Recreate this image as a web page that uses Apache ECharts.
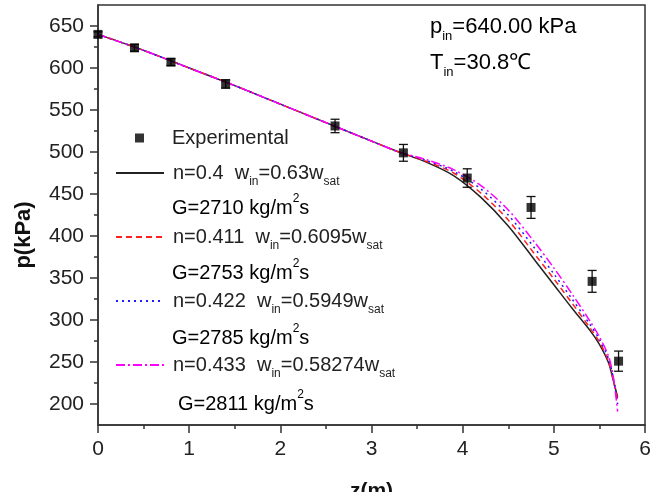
<!DOCTYPE html>
<html>
<head>
<meta charset="utf-8">
<script src="https://cdn.jsdelivr.net/npm/echarts@6.0.0/dist/echarts.min.js"></script>
<style>
html, body { margin: 0; padding: 0; background: #fff; }
#chart { width: 658px; height: 492px; }
</style>
</head>
<body>
<div id="chart"></div>
<script>
// experimental points (z in m, p in kPa, error bar half-height)
const zExp = [0, 0.4, 0.8, 1.4, 2.6, 3.35, 4.05, 4.75, 5.42, 5.71]
const pExp = [640, 624, 607, 581, 531, 499, 469, 434, 346, 251]
const errExp = [3, 4, 4, 5, 8, 10, 11, 13, 13, 12]

// model curves, all on the same z grid
const zModel = [0, 0.5, 1, 1.5, 2, 2.5, 3, 3.3, 3.6, 3.9, 4.2, 4.5, 4.8, 5.0, 5.2, 5.4, 5.5, 5.6, 5.65, 5.7]
const pN0400 = [640, 621, 600, 579, 557, 535, 513, 500, 488, 472, 446, 412, 370, 342, 314, 287, 271, 249, 229, 208]
const pN0411 = [640, 621, 600, 579, 557, 535, 513, 500, 489, 475, 451, 419, 377, 349, 320, 290, 274, 251, 230, 205]
const pN0422 = [640, 621, 600, 579, 557, 535, 513, 500, 490, 477, 456, 425, 384, 355, 325, 294, 277, 254, 232, 200]
const pN0433 = [640, 621, 600, 579, 557, 535, 513, 500, 491, 479, 460, 431, 391, 362, 331, 298, 280, 257, 234, 191]

// axis ticks
const xTicks = [0, 1, 2, 3, 4, 5, 6]
const yMajor = [200, 250, 300, 350, 400, 450, 500, 550, 600, 650]
const yMinor = [225, 275, 325, 375, 425, 475, 525, 575, 625]

// legend / label texts
const lineNames = ['n=0.4', 'n=0.411', 'n=0.422', 'n=0.433']
const wLabels = ['0.63', '0.6095', '0.5949', '0.58274']
const gLabels = ['2710', '2753', '2785', '2811']

const FONT = 'Liberation Sans, Arial, Helvetica, sans-serif'
const TXT = '#222'

const pair = (zs, ps) => zs.map((z, i) => [z, ps[i]])

const subRich = {
  a: { fontFamily: FONT, fontSize: 20, lineHeight: 30, color: TXT },
  s: { fontFamily: FONT, fontSize: 12, lineHeight: 12, color: TXT, verticalAlign: 'bottom' },
  p: { fontFamily: FONT, fontSize: 12, lineHeight: 12, color: TXT, verticalAlign: 'top' }
}
// slightly larger for the inlet conditions
const annRich = {
  a: { fontFamily: FONT, fontSize: 22, lineHeight: 32, color: TXT },
  s: { fontFamily: FONT, fontSize: 13, lineHeight: 13, color: TXT, verticalAlign: 'bottom' }
}

const myChart = echarts.init(document.getElementById('chart'))

const lineSeries = (name, data, color, type) => ({
  name: name,
  type: 'line',
  data: data,
  showSymbol: false,
  symbol: 'none',
  smooth: 0.3,
  lineStyle: { color: color, width: 1.5, type: type },
  itemStyle: { color: color },
  z: 3
})

// G= lines under each legend entry
const gY = [208, 273, 338, 404]
const gX = [172, 172, 172, 178]
const gTexts = gLabels.map((g, i) => ({
  type: 'text',
  x: gX[i],
  y: gY[i],
  style: {
    text: '{a|G=' + g + ' kg/m}{p|2}{a|s}',
    rich: subRich,
    verticalAlign: 'middle'
  }
}))

let option = {
  animation: false,
  backgroundColor: '#fff',
  grid: {
    left: 98, right: 13, top: 5, bottom: 67,
    outerBoundsMode: 'none',
    show: true, borderColor: '#333', borderWidth: 1.5
  },
  legend: [
    {
      data: ['Experimental'],
      orient: 'vertical',
      left: 135, top: 128,
      padding: 0,
      itemWidth: 9, itemHeight: 9,
      textStyle: { fontFamily: FONT, fontSize: 20, color: TXT, padding: [0, 0, 0, 23] }
    },
    {
      data: lineNames,
      orient: 'vertical',
      left: 115, top: 163,
      padding: 0,
      icon: 'inherit',
      itemWidth: 48, itemHeight: 14,
      itemGap: 39,
      itemStyle: { opacity: 0 },
      formatter: function (name) {
        const i = lineNames.indexOf(name)
        return '{a|' + name + '  w}{s|in}{a|=' + wLabels[i] + 'w}{s|sat}'
      },
      textStyle: { rich: subRich, padding: [0, 0, 0, 4] }
    }
  ],
  xAxis: {
    type: 'value',
    min: 0, max: 6, interval: 1,
    name: 'z(m)',
    nameLocation: 'middle',
    nameGap: 56,
    nameTextStyle: { fontFamily: FONT, fontSize: 21, fontWeight: 'bold', color: '#111' },
    axisLine: { onZero: false, lineStyle: { color: '#333', width: 1.5 } },
    axisTick: { length: 8, lineStyle: { color: '#333', width: 1.5 } },
    minorTick: { show: true, splitNumber: 2, length: 4, lineStyle: { color: '#333', width: 1.5 } },
    axisLabel: {
      margin: 14, fontFamily: FONT, fontSize: 21, color: TXT,
      customValues: xTicks
    },
    splitLine: { show: false }
  },
  yAxis: [
    {
      type: 'value',
      min: 175, max: 675,
      name: 'p(kPa)',
      nameLocation: 'middle',
      nameGap: 63,
      nameTextStyle: { fontFamily: FONT, fontSize: 22, fontWeight: 'bold', color: '#111', padding: [0, 40, 0, 0] },
      axisLine: { show: true, onZero: false, lineStyle: { color: '#333', width: 1.5 } },
      axisTick: { show: true, length: 8, customValues: yMajor, lineStyle: { color: '#333', width: 1.5 } },
      axisLabel: { margin: 14, fontFamily: FONT, fontSize: 21, color: TXT, customValues: yMajor },
      splitLine: { show: false }
    },
    {
      // minor ticks only
      type: 'value',
      min: 175, max: 675,
      position: 'left',
      axisLine: { show: false },
      axisTick: { show: true, length: 4, customValues: yMinor, lineStyle: { color: '#333', width: 1.5 } },
      axisLabel: { show: false, customValues: yMinor },
      splitLine: { show: false }
    }
  ],
  graphic: [
    {
      type: 'text', x: 430, y: 27,
      style: { text: '{a|p}{s|in}{a|=640.00 kPa}', rich: annRich, verticalAlign: 'middle' }
    },
    {
      type: 'text', x: 430, y: 63,
      style: { text: '{a|T}{s|in}{a|=30.8℃}', rich: annRich, verticalAlign: 'middle' }
    }
  ].concat(gTexts),
  series: [
    lineSeries('n=0.4', pair(zModel, pN0400), '#222', 'solid'),
    lineSeries('n=0.411', pair(zModel, pN0411), '#ff2020', [6, 4]),
    lineSeries('n=0.422', pair(zModel, pN0422), '#1a1aff', [2, 4]),
    lineSeries('n=0.433', pair(zModel, pN0433), '#ff00ff', [9, 3, 2, 3]),
    {
      name: 'errbar',
      type: 'custom',
      data: zExp.map((z, i) => [z, pExp[i], errExp[i]]),
      encode: { x: 0, y: 1 },
      renderItem: function (params, api) {
        const x = api.value(0), y = api.value(1), e = api.value(2)
        const hi = api.coord([x, y + e])
        const lo = api.coord([x, y - e])
        const w = 4.5
        const st = { stroke: '#111', lineWidth: 1.3 }
        return {
          type: 'group',
          children: [
            { type: 'line', shape: { x1: hi[0], y1: hi[1], x2: lo[0], y2: lo[1] }, style: st },
            { type: 'line', shape: { x1: hi[0] - w, y1: hi[1], x2: hi[0] + w, y2: hi[1] }, style: st },
            { type: 'line', shape: { x1: lo[0] - w, y1: lo[1], x2: lo[0] + w, y2: lo[1] }, style: st }
          ]
        }
      },
      z: 4
    },
    {
      name: 'Experimental',
      type: 'scatter',
      data: pair(zExp, pExp),
      symbol: 'rect',
      symbolSize: 9,
      itemStyle: { color: '#000' },
      z: 5
    }
  ]
}

option && myChart.setOption(option)
</script>
</body>
</html>
